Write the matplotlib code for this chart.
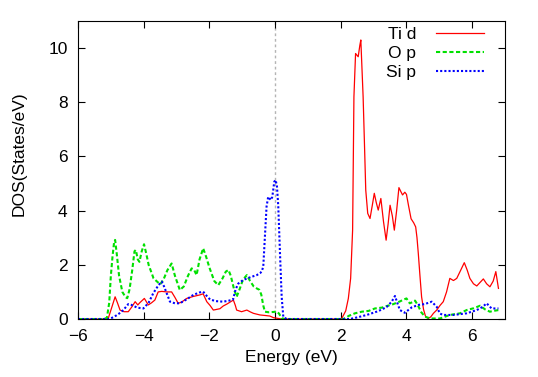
import numpy as np
import matplotlib
matplotlib.use('Agg')
import matplotlib.pyplot as plt

plt.rcParams['font.family'] = ['Liberation Sans', 'DejaVu Sans']
plt.rcParams['font.size'] = 12.5

# (energy eV, DOS) pairs
ti_d = [(-6.0, 0), (-5.2, 0), (-5.08, 0.02), (-4.98, 0.4), (-4.87, 0.82), (-4.80, 0.6),
        (-4.72, 0.33), (-4.6, 0.27), (-4.47, 0.27), (-4.36, 0.45), (-4.26, 0.64), (-4.18, 0.52),
        (-4.12, 0.6), (-3.98, 0.76), (-3.86, 0.52), (-3.76, 0.6), (-3.66, 0.7), (-3.56, 1.0),
        (-3.45, 1.02), (-3.3, 1.0), (-3.15, 1.0), (-3.05, 0.8), (-2.95, 0.58), (-2.85, 0.62),
        (-2.69, 0.76), (-2.5, 0.83), (-2.29, 0.89), (-2.19, 0.93), (-2.08, 0.64), (-1.98, 0.5),
        (-1.88, 0.33), (-1.68, 0.38), (-1.58, 0.48), (-1.47, 0.55), (-1.35, 0.64), (-1.27, 0.7),
        (-1.21, 0.5), (-1.17, 0.33), (-1.02, 0.27), (-0.86, 0.33), (-0.75, 0.26), (-0.66, 0.21),
        (-0.56, 0.18), (-0.46, 0.15), (-0.3, 0.13), (-0.16, 0.11), (-0.05, 0.05), (0.1, 0.02),
        (0.2, 0), (1.9, 0), (2.03, 0.02), (2.15, 0.3), (2.23, 0.76), (2.30, 1.5), (2.36, 3.28),
        (2.40, 8.2), (2.45, 9.8), (2.53, 9.68), (2.58, 10.1), (2.61, 10.3), (2.68, 8.2),
        (2.72, 6.5), (2.76, 4.76), (2.82, 3.9), (2.89, 3.71), (2.96, 4.2), (3.02, 4.64),
        (3.08, 4.3), (3.14, 4.02), (3.22, 4.45), (3.30, 3.6), (3.38, 2.91), (3.44, 3.5),
        (3.50, 4.2), (3.57, 3.8), (3.63, 3.28), (3.70, 4.0), (3.77, 4.85), (3.83, 4.7),
        (3.88, 4.58), (3.95, 4.68), (4.0, 4.6), (4.06, 4.2), (4.14, 3.7), (4.22, 3.55),
        (4.28, 3.4), (4.32, 3.0), (4.36, 2.42), (4.41, 1.6), (4.46, 0.82), (4.52, 0.35),
        (4.58, 0.1), (4.66, 0.02), (4.74, 0.08), (4.82, 0.21), (4.92, 0.33), (5.02, 0.5),
        (5.12, 0.64), (5.22, 1.0), (5.32, 1.5), (5.43, 1.42), (5.53, 1.5), (5.65, 1.8),
        (5.76, 2.08), (5.85, 1.8), (5.93, 1.5), (6.04, 1.3), (6.14, 1.22), (6.24, 1.35),
        (6.34, 1.48), (6.44, 1.3), (6.54, 1.19), (6.64, 1.4), (6.72, 1.75), (6.80, 1.13)]

o_p = [(-6.0, 0), (-5.2, 0), (-5.12, 0.05), (-5.05, 0.6), (-5.0, 1.6), (-4.95, 2.3),
       (-4.9, 2.85), (-4.87, 2.92), (-4.82, 2.4), (-4.75, 1.6), (-4.65, 1.0), (-4.55, 0.8),
       (-4.5, 0.77), (-4.43, 1.1), (-4.35, 1.8), (-4.28, 2.5), (-4.24, 2.55), (-4.18, 2.2),
       (-4.13, 2.11), (-4.06, 2.5), (-3.99, 2.76), (-3.92, 2.4), (-3.85, 2.0), (-3.7, 1.5),
       (-3.5, 1.28), (-3.4, 1.45), (-3.28, 1.8), (-3.15, 2.05), (-3.05, 1.6), (-2.9, 1.07),
       (-2.78, 1.2), (-2.65, 1.6), (-2.54, 1.87), (-2.46, 1.8), (-2.39, 1.62), (-2.3, 2.2),
       (-2.19, 2.61), (-2.1, 2.3), (-2.0, 1.9), (-1.85, 1.4), (-1.73, 1.25), (-1.6, 1.5),
       (-1.5, 1.75), (-1.42, 1.81), (-1.35, 1.6), (-1.25, 1.1), (-1.17, 0.82), (-1.08, 1.1),
       (-0.98, 1.45), (-0.86, 1.62), (-0.76, 1.4), (-0.65, 1.2), (-0.56, 1.13), (-0.48, 1.08),
       (-0.42, 0.9), (-0.36, 0.5), (-0.31, 0.27), (-0.2, 0.25), (-0.05, 0.26), (0.05, 0.28),
       (0.12, 0.2), (0.2, 0.03), (0.3, 0), (1.9, 0), (2.08, 0), (2.25, 0.12), (2.43, 0.21),
       (2.64, 0.27), (2.85, 0.3), (3.04, 0.39), (3.25, 0.42), (3.40, 0.48), (3.6, 0.55),
       (3.8, 0.65), (3.92, 0.72), (4.0, 0.76), (4.1, 0.58), (4.18, 0.62), (4.26, 0.68),
       (4.35, 0.5), (4.45, 0.25), (4.56, 0.09), (4.72, 0.02), (5.02, 0.02), (5.32, 0.15),
       (5.63, 0.21), (5.83, 0.33), (6.05, 0.4), (6.24, 0.49), (6.4, 0.35), (6.54, 0.27),
       (6.65, 0.3), (6.8, 0.33)]

si_p = [(-6.0, 0), (-5.05, 0), (-4.9, 0.08), (-4.75, 0.2), (-4.62, 0.33), (-4.47, 0.55),
        (-4.37, 0.52), (-4.2, 0.42), (-4.01, 0.39), (-3.85, 0.6), (-3.71, 0.95), (-3.55, 1.25),
        (-3.45, 1.38), (-3.38, 1.2), (-3.30, 0.95), (-3.20, 0.64), (-3.05, 0.58), (-2.9, 0.58),
        (-2.7, 0.72), (-2.49, 0.89), (-2.3, 0.98), (-2.19, 1.01), (-2.08, 0.85), (-1.98, 0.72),
        (-1.8, 0.66), (-1.58, 0.64), (-1.4, 0.68), (-1.28, 0.72), (-1.2, 1.1), (-1.12, 1.31),
        (-0.97, 1.44), (-0.85, 1.5), (-0.71, 1.56), (-0.56, 1.62), (-0.46, 1.69), (-0.41, 1.75),
        (-0.36, 1.93), (-0.31, 3.04), (-0.26, 4.15), (-0.21, 4.51), (-0.13, 4.39), (-0.085, 4.51),
        (-0.024, 5.07), (0.018, 5.13), (0.058, 4.88), (0.097, 4.15), (0.149, 2.43), (0.20, 0.82),
        (0.25, 0.08), (0.35, 0), (2.28, 0), (2.5, 0.06), (2.79, 0.15), (3.09, 0.27),
        (3.25, 0.35), (3.40, 0.45), (3.55, 0.64), (3.65, 0.85), (3.72, 0.6), (3.80, 0.33),
        (3.95, 0.23), (4.16, 0.43), (4.36, 0.52), (4.55, 0.55), (4.77, 0.64), (4.92, 0.45),
        (5.02, 0.2), (5.12, 0.15), (5.43, 0.15), (5.83, 0.21), (6.14, 0.33), (6.32, 0.45),
        (6.44, 0.58), (6.59, 0.39), (6.8, 0.39)]

labels = ['Ti d', 'O p', 'Si p']
xticks = [-6, -4, -2, 0, 2, 4, 6]
yticks = [0, 2, 4, 6, 8, 10]

fig = plt.figure(figsize=(5.38, 3.77), dpi=100)
ax = fig.add_axes([0.145, 0.1538, 0.7937, 0.7905])

ax.axvline(0, color='#b4b4b4', lw=1.0, ls=(0, (2, 2)), zorder=1)

e, d = np.array(ti_d).T
ax.plot(e, d, color='#ff0000', lw=0.9, label=labels[0])
e, d = np.array(o_p).T
ax.plot(e, d, color='#00e000', lw=1.5, dashes=(2, 1.2), label=labels[1])
e, d = np.array(si_p).T
ax.plot(e, d, color='#0000ff', lw=1.5, dashes=(1, 1), label=labels[2])

ax.set_xlim(-6, 7)
ax.set_ylim(0, 11)
ax.set_xticks(xticks)
ax.set_yticks(yticks)
ax.tick_params(direction='in', top=True, right=True, length=5, width=0.8)
ax.tick_params(axis='x', pad=7)
ax.tick_params(axis='y', pad=7.5)
for s in ax.spines.values():
    s.set_linewidth(0.8)

ax.set_xlabel('Energy (eV)', labelpad=4.5)
ax.set_ylabel('DOS(States/eV)')
ax.yaxis.set_label_coords(-0.12, 0.554)

ax.legend(loc='upper right', bbox_to_anchor=(484 / 538, 1 - 26.5 / 377),
          bbox_transform=fig.transFigure, frameon=False, markerfirst=False,
          borderpad=0, borderaxespad=0, handlelength=2.76, handletextpad=1.15,
          labelspacing=0.22)

plt.savefig('out.png', dpi=100)
